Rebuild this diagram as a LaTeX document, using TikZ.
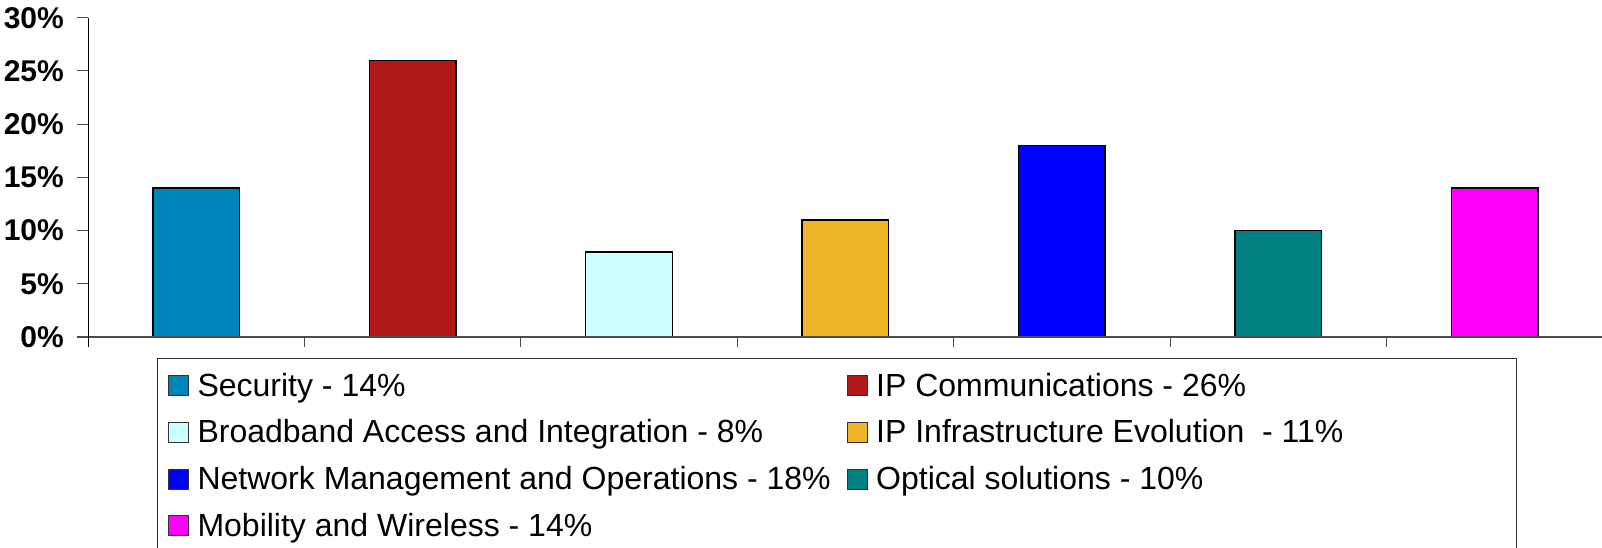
\documentclass[tikz,border=0pt]{standalone}
\usepackage{fontspec}
\setmainfont{Liberation Sans}
\usepackage{xcolor}
\usetikzlibrary{positioning}

\definecolor{secblue}{RGB}{0,132,186}
\definecolor{ipred}{RGB}{178,24,26}
\definecolor{bbcyan}{RGB}{204,255,255}
\definecolor{infgold}{RGB}{240,180,40}
\definecolor{netblue}{RGB}{0,0,255}
\definecolor{optteal}{RGB}{0,128,128}
\definecolor{mobpink}{RGB}{255,0,255}

\begin{document}
\begin{tikzpicture}[x=1pt,y=1pt,
  bar/.style={draw=black,line width=1.3pt},
  axisline/.style={line width=1.6pt,black!70},
  tickline/.style={line width=1pt,black!70},
  legmark/.style={draw=black!80,line width=1pt,minimum size=20pt,inner sep=0pt},
  legtext/.style={font=\fontsize{32}{38}\selectfont,inner sep=0pt},
  ylab/.style={font=\fontsize{30}{36}\selectfont\bfseries,inner sep=0pt,anchor=east}]
% Visible area
\clip (-88,-211) rectangle (1514,337);

% Bars (1% = 10.64)
% Security (14)
\pgfmathsetmacro{\barheight}{14*10.64}
\filldraw[bar,fill=secblue] (108.2-43.3,0) rectangle (108.2+43.3,\barheight);

% IP Communications (26)
\pgfmathsetmacro{\barheight}{26*10.64}
\filldraw[bar,fill=ipred] (324.6-43.3,0) rectangle (324.6+43.3,\barheight);

% Broadband Access (8)
\pgfmathsetmacro{\barheight}{8*10.64}
\filldraw[bar,fill=bbcyan] (541-43.3,0) rectangle (541+43.3,\barheight);

% IP Infrastructure (11)
\pgfmathsetmacro{\barheight}{11*10.64}
\filldraw[bar,fill=infgold] (757.4-43.3,0) rectangle (757.4+43.3,\barheight);

% Network Management (18)
\pgfmathsetmacro{\barheight}{18*10.64}
\filldraw[bar,fill=netblue] (973.8-43.3,0) rectangle (973.8+43.3,\barheight);

% Optical solutions (10)
\pgfmathsetmacro{\barheight}{10*10.64}
\filldraw[bar,fill=optteal] (1190.2-43.3,0) rectangle (1190.2+43.3,\barheight);

% Mobility and Wireless (14)
\pgfmathsetmacro{\barheight}{14*10.64}
\filldraw[bar,fill=mobpink] (1406.6-43.3,0) rectangle (1406.6+43.3,\barheight);

% Draw axes
\draw[axisline] (-11,0) -- (1514,0);
\draw[line width=1pt] (0,-10) -- (0,319);

% Y-axis labels
\foreach \y in {0,5,...,30}{
  \draw[tickline] (-11,\y*10.64) -- (0,\y*10.64);
  \node[ylab] (ylab\y) at (-24,\y*10.64) {\y\%};
}

% Category ticks
\foreach \i in {1,...,6}
  \draw[tickline] (\i*216.4,0) -- (\i*216.4,-10);

% Legend
\draw[line width=1pt,black!80] (69.5,-260) rectangle (1428,-22);
\node[legmark,fill=secblue] (mksec) at (90.35,-49) {};
\node[legmark,fill=ipred] (mkip) at (769,-49) {};
\node[legmark,fill=bbcyan] (mkbb) at (90.35,-95.5) {};
\node[legmark,fill=infgold] (mkinf) at (769,-95.5) {};
\node[legmark,fill=netblue] (mknet) at (90.35,-142) {};
\node[legmark,fill=optteal] (mkopt) at (769,-142) {};
\node[legmark,fill=mobpink] (mkmob) at (90.35,-188.5) {};

\node[legtext,right=8.5pt of mksec.south east,anchor=base west] (txsec) {Security - 14\%};
\node[legtext,right=8.5pt of mkip.south east,anchor=base west] (txip) {IP Communications - 26\%};
\node[legtext,right=8.5pt of mkbb.south east,anchor=base west] (txbb) {Broadband Access and Integration - 8\%};
\node[legtext,right=8.5pt of mkinf.south east,anchor=base west] (txinf) {IP Infrastructure Evolution\ \ - 11\%};
\node[legtext,right=8.5pt of mknet.south east,anchor=base west] (txnet) {Network Management and Operations - 18\%};
\node[legtext,right=8.5pt of mkopt.south east,anchor=base west] (txopt) {Optical solutions - 10\%};
\node[legtext,right=8.5pt of mkmob.south east,anchor=base west] (txmob) {Mobility and Wireless - 14\%};
\end{tikzpicture}
\end{document}
